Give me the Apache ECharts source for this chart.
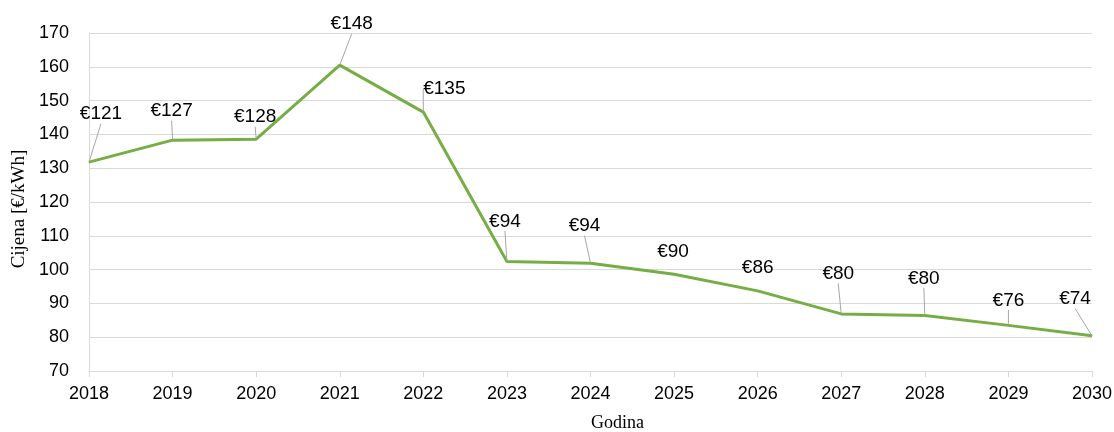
<!DOCTYPE html>
<html>
<head>
<meta charset="utf-8">
<script src="https://cdn.jsdelivr.net/npm/echarts@6/dist/echarts.min.js"></script>
<style>html,body{margin:0;padding:0;background:#fff}#c{width:1114px;height:432px}</style>
</head>
<body>
<div id="c"></div>
<script>
const years = ['2018','2019','2020','2021','2022','2023','2024','2025','2026','2027','2028','2029','2030'];
const prices = [131.8, 138.3, 138.6, 160.5, 146.6, 102.4, 101.9, 98.6, 93.7, 86.9, 86.4, 83.5, 80.4];
const priceLabels = ['€121','€127','€128','€148','€135','€94','€94','€90','€86','€80','€80','€76','€74'];
const yTicks = {min: 70, max: 170, interval: 10};

// label placement (layout only)
const labelShift = [[12,-48],[-1,-29],[-1,-22],[12,-41],[21,-23],[-2,-40],[-6,-37],[-1,-23],[0,-23],[-3,-40],[-1,-37],[0,-25],[-17,-37]];
const noLeader = [7, 8];

const chart = echarts.init(document.getElementById('c'));
chart.setOption({
  animation: false,
  grid: {left: 89, right: 22, top: 33, bottom: 61, outerBoundsMode: 'none', containLabel: false},
  xAxis: {
    type: 'category', data: years, boundaryGap: false,
    name: 'Godina', nameLocation: 'middle', nameGap: 43,
    nameTextStyle: {fontFamily: 'Liberation Serif', fontSize: 18, color: '#000', padding: [0, 0, 0, 54]},
    axisLine: {lineStyle: {color: '#d9d9d9', width: 1}},
    axisTick: {show: true, length: 6, lineStyle: {color: '#d9d9d9'}},
    axisLabel: {fontFamily: 'Liberation Sans', fontSize: 18, color: '#000', margin: 14}
  },
  yAxis: {
    type: 'value', min: yTicks.min, max: yTicks.max, interval: yTicks.interval,
    name: 'Cijena [€/kWh]', nameLocation: 'middle', nameGap: 60,
    nameTextStyle: {fontFamily: 'Liberation Serif', fontSize: 19, color: '#000', padding: [0, 14, 0, 0]},
    axisLine: {show: true, lineStyle: {color: '#d9d9d9', width: 1}},
    axisTick: {show: false},
    splitLine: {lineStyle: {color: '#d9d9d9', width: 1}},
    axisLabel: {fontFamily: 'Liberation Sans', fontSize: 18, color: '#000', margin: 20}
  },
  series: [{
    type: 'line',
    data: prices.map((v, i) => ({
      value: v,
      labelLine: {show: noLeader.indexOf(i) < 0}
    })),
    symbol: 'circle', symbolSize: 1,
    itemStyle: {color: '#76ad44'},
    lineStyle: {color: '#76ad44', width: 3},
    label: {
      show: true, position: 'inside',
      fontFamily: 'Liberation Sans', fontSize: 19, color: '#000',
      formatter: p => priceLabels[p.dataIndex]
    },
    labelLine: {show: true, lineStyle: {color: '#a6a6a6', width: 1}},
    labelLayout: p => ({dx: labelShift[p.dataIndex][0], dy: labelShift[p.dataIndex][1]})
  }]
});
</script>
</body>
</html>
